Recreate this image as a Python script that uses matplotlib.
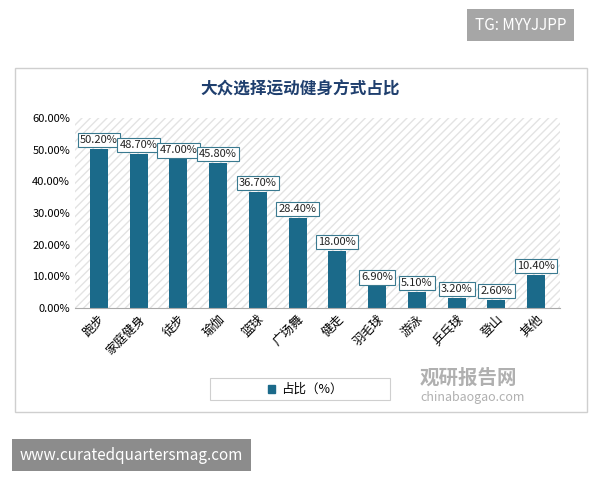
import matplotlib
matplotlib.use("Agg")
import matplotlib.pyplot as plt
from matplotlib.patches import Rectangle

plt.rcParams['font.family'] = ['Noto Sans CJK SC', 'DejaVu Sans']

categories = ["跑步", "家庭健身", "徒步", "瑜伽", "篮球", "广场舞", "健走",
              "羽毛球", "游泳", "乒乓球", "登山", "其他"]
values = [50.2, 48.7, 47.0, 45.8, 36.7, 28.4, 18.0, 6.9, 5.1, 3.2, 2.6, 10.4]
yticks = [0, 10, 20, 30, 40, 50, 60]

bar_color = "#1b6a8a"

fig = plt.figure(figsize=(6, 4.8), dpi=100)
fig.patch.set_facecolor("white")

# outer chart frame
fig.patches.append(Rectangle((15 / 600, 1 - 412 / 480), 572 / 600, 344 / 480,
                             transform=fig.transFigure, fill=False,
                             edgecolor="#cfcfcf", lw=1))

ax = fig.add_axes([75 / 600, 1 - 308 / 480, 485 / 600, 190 / 480])
ax.add_patch(Rectangle((0, 0), 1, 1, transform=ax.transAxes, facecolor="white",
                       hatch="////", edgecolor="#e3e3e3", lw=0, zorder=0))
x = range(len(categories))
ax.bar(x, values, width=0.45, color=bar_color, zorder=2)
for i, v in enumerate(values):
    ax.text(i, v + 1.2, f"{v:.2f}%", ha="center", va="bottom", fontsize=8,
            color="#222222", zorder=3,
            bbox=dict(boxstyle="square,pad=0.2", fc="white", ec="#3a7a90", lw=0.8))
ax.set_ylim(0, 60)
ax.set_xlim(-0.6, len(categories) - 0.4)
ax.set_yticks(yticks)
ax.set_yticklabels([f"{t:.2f}%" for t in yticks], fontsize=8)
ax.set_xticks(list(x))
ax.set_xticklabels(categories, rotation=45, ha="right", rotation_mode="anchor",
                   fontsize=9)
ax.tick_params(length=0)
for s in ["top", "right", "left"]:
    ax.spines[s].set_visible(False)
ax.spines["bottom"].set_color("#aaaaaa")

fig.text(300 / 600, 1 - 90 / 480, "大众选择运动健身方式占比", ha="center",
         va="center", fontsize=12, fontweight="bold", color="#1f3f6e")

# legend box
fig.patches.append(Rectangle((210 / 600, 1 - 400 / 480), 180 / 600, 22 / 480,
                             transform=fig.transFigure, fill=False,
                             edgecolor="#cfcfcf", lw=0.8))
fig.patches.append(Rectangle((268 / 600, 1 - 393 / 480), 7 / 600, 8 / 480,
                             transform=fig.transFigure, color=bar_color))
fig.text(281 / 600, 1 - 389 / 480, "占比（%）", va="center", fontsize=9)

# watermark
fig.text(420 / 600, 1 - 378 / 480, "观研报告网", fontsize=14, fontweight="bold",
         color="#b0b0b0", va="center")
fig.text(420 / 600, 1 - 398 / 480, "chinabaogao.com", fontsize=9,
         color="#b0b0b0", va="center")

# overlay boxes
fig.text(475 / 600, 1 - 25 / 480, "TG: MYYJJPP", fontsize=11, color="white",
         va="center",
         bbox=dict(boxstyle="square,pad=0.5", fc="#a6a6a6", ec="none"))
fig.text(20 / 600, 1 - 455 / 480, "www.curatedquartersmag.com", fontsize=11,
         color="white", va="center",
         bbox=dict(boxstyle="square,pad=0.5", fc="#8c8c8c", ec="none"))

fig.savefig("out.png", dpi=100)
